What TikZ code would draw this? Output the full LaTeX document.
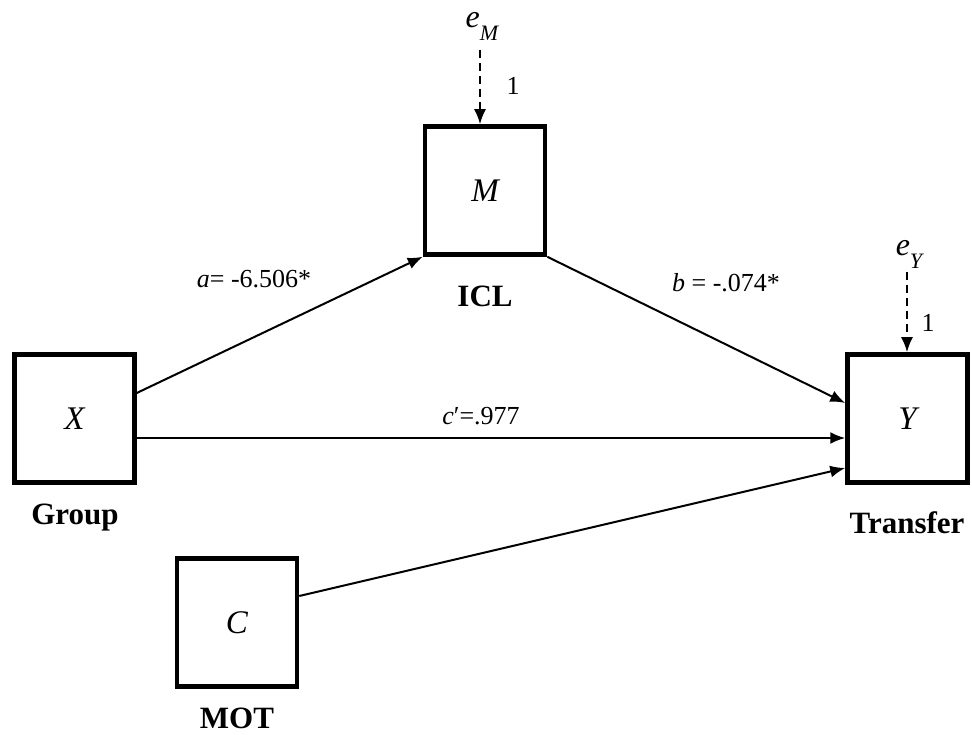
\documentclass[tikz,border=0pt]{standalone}
\usepackage{fontspec}
\setmainfont{Liberation Serif}
\usetikzlibrary{arrows.meta}

\begin{document}
\begin{tikzpicture}[x=1pt,y=-1pt,
  var/.style={draw,line width=4.5pt,minimum width=120pt,minimum height=128pt,inner sep=0pt,font=\fontsize{33}{38}\selectfont\itshape},
  lbl/.style={anchor=base,font=\fontsize{31}{36}\selectfont\bfseries},
  coef/.style={anchor=base,font=\fontsize{26}{30}\selectfont},
  errlbl/.style={inner sep=0pt,font=\fontsize{32}{36}\selectfont\itshape},
  path/.style={line width=2pt,-{Latex[length=15pt,width=12pt]}},
  err/.style={path,dash pattern=on 8pt off 5pt}]
\useasboundingbox (0,0) rectangle (972,735);
% 變數方框
\node[var] (X) at (74.5,418.5) {X};
\node[var] (M) at (485,190.5) {M};
\node[var] (Y) at (907.5,418.5) {Y};
\node[var] (C) at (237,622.5) {C};

\node[lbl] (gX) at (75,524) {Group};
\node[lbl] (gM) at (485,307) {ICL};
\node[lbl] (gY) at (907,533) {Transfer};
\node[lbl] (gC) at (237,728) {MOT};

% 誤差項
\node[errlbl] (eM) at (482,26) {e\raisebox{-13pt}{\fontsize{22}{26}\selectfont M}};
\node[errlbl] (eY) at (909,254) {e\raisebox{-13pt}{\fontsize{22}{26}\selectfont Y}};
\coordinate (eMs) at (480,50);
\coordinate (eYs) at (907,272);
\draw[err] (eMs) -- (eMs |- M.north);
\draw[err] (eYs) -- (eYs |- Y.north);
\node[coef] (oneM) at (513,95) {1};
\node[coef] (oneY) at (928,331) {1};

% 路徑
\draw[path] ([yshift=25.5pt]X.east) -- (M.south west);
\draw[path] (M.south east) -- ([yshift=15.5pt]Y.west);
\draw[path] ([yshift=-19.5pt]X.east) -- ([yshift=-19.5pt]Y.west);
\draw[path] ([yshift=26.5pt]C.east) -- ([yshift=-49.5pt]Y.west);

\node[coef] (la) at (254,288) {\textit{a}= -6.506*};
\node[coef] (lb) at (726,292) {\textit{b} = -.074*};
\node[coef] (lc) at (481,424) {\textit{c}′=.977};
\end{tikzpicture}
\end{document}
